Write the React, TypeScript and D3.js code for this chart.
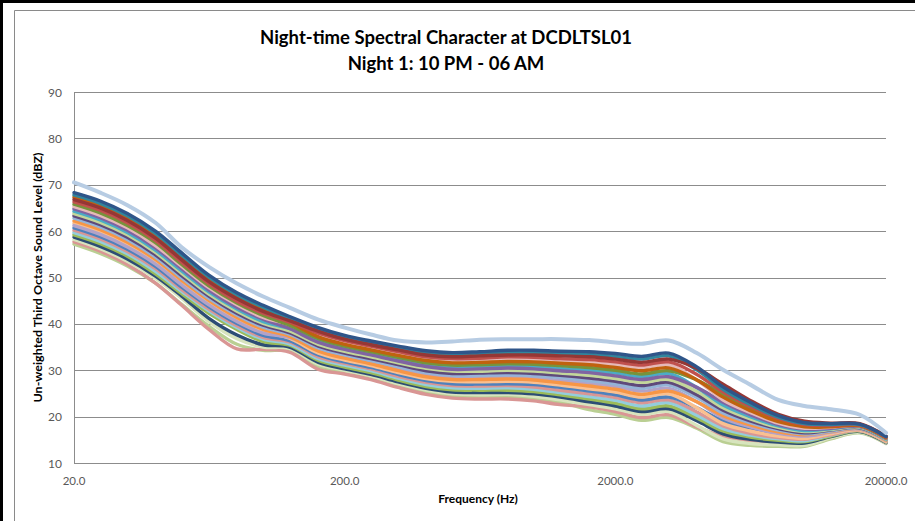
import React from "react";
import * as d3 from "d3";

const frequencies = [20, 25, 31.5, 40, 50, 63, 80, 100, 125, 160, 200, 250, 315, 400, 500, 630, 800, 1000, 1250, 1600, 2000, 2500, 3150, 4000, 5000, 6300, 8000, 10000, 12500, 16000, 20000];
const xTicks = [20, 200, 2000, 20000];
const xTickLabels = ["20.0", "200.0", "2000.0", "20000.0"];
const yTicks = [10, 20, 30, 40, 50, 60, 70, 80, 90];
const titleLines = ["Night-time Spectral Character at DCDLTSL01", "Night 1: 10 PM - 06 AM"];
const xAxisTitle = "Frequency (Hz)";
const yAxisTitle = "Un-weighted Third Octave Sound Level (dBZ)";

const interval00 = [70.5, 68.3, 65.6, 61.8, 56.5, 52.3, 48.7, 45.9, 43.5, 40.9, 39.2, 37.7, 36.4, 36.0, 36.2, 36.6, 36.7, 36.7, 36.7, 36.5, 36.0, 35.7, 36.4, 33.7, 30.1, 26.9, 23.6, 22.3, 21.6, 20.4, 16.5];
const interval01 = [68.3, 66.5, 63.8, 60.0, 55.3, 50.5, 46.7, 44.0, 41.6, 39.2, 37.5, 36.3, 35.2, 34.2, 33.8, 34.0, 34.3, 34.3, 34.1, 34.0, 33.6, 33.0, 33.7, 30.7, 26.4, 23.1, 20.2, 18.7, 18.5, 18.4, 15.7];
const interval02 = [66.8, 65.0, 62.3, 58.5, 53.8, 49.1, 45.4, 42.7, 40.7, 38.4, 36.7, 35.5, 34.4, 33.3, 32.9, 33.1, 33.3, 33.3, 33.1, 32.9, 32.4, 31.7, 32.4, 30.4, 27.0, 23.5, 20.5, 19.0, 18.6, 18.5, 15.8];
const interval03 = [67.8, 66.0, 63.3, 59.5, 54.8, 50.1, 46.3, 43.6, 41.2, 38.8, 37.1, 35.9, 34.8, 33.8, 33.3, 33.5, 33.8, 33.8, 33.6, 33.4, 33.0, 32.4, 33.1, 30.1, 25.9, 22.6, 19.9, 18.5, 18.3, 18.3, 15.7];
const interval04 = [66.3, 64.5, 61.8, 58.0, 53.3, 48.7, 44.9, 42.3, 40.4, 38.0, 36.4, 35.2, 34.0, 32.9, 32.5, 32.6, 32.9, 32.8, 32.5, 32.3, 31.8, 31.1, 31.8, 29.1, 25.3, 22.2, 19.6, 18.3, 18.1, 18.2, 15.6];
const interval05 = [67.3, 65.5, 62.8, 59.0, 54.3, 49.6, 45.8, 43.1, 40.4, 37.2, 35.6, 34.4, 33.2, 32.1, 31.6, 31.7, 31.9, 31.8, 31.5, 31.2, 30.6, 29.9, 30.5, 27.9, 24.2, 21.3, 18.9, 17.8, 17.8, 18.0, 15.4];
const interval06 = [65.8, 63.9, 61.2, 57.5, 52.8, 48.2, 44.5, 41.8, 39.7, 36.8, 35.2, 34.0, 32.8, 31.6, 31.1, 31.2, 31.4, 31.3, 31.0, 30.6, 30.0, 29.2, 29.9, 27.9, 24.8, 21.7, 19.3, 18.0, 18.0, 18.1, 15.5];
const interval07 = [65.3, 63.4, 60.7, 56.9, 52.4, 47.8, 44.1, 41.4, 39.9, 37.6, 36.0, 34.8, 33.6, 32.5, 32.0, 32.2, 32.4, 32.3, 32.0, 31.7, 31.2, 30.5, 31.2, 27.9, 23.6, 20.9, 18.6, 17.5, 17.7, 18.0, 15.4];
const interval08 = [64.8, 62.9, 60.2, 56.4, 51.9, 47.3, 43.6, 41.0, 39.0, 36.0, 34.5, 33.3, 32.0, 30.8, 30.2, 30.3, 30.5, 30.3, 29.9, 29.5, 28.8, 28.0, 28.6, 26.3, 23.1, 20.4, 18.3, 17.3, 17.5, 17.9, 15.3];
const interval09 = [64.3, 62.4, 59.7, 55.9, 51.4, 46.9, 43.2, 40.5, 39.0, 36.4, 34.9, 33.7, 32.4, 31.2, 30.7, 30.8, 31.0, 30.8, 30.4, 30.0, 29.4, 28.6, 29.3, 26.3, 22.5, 20.0, 18.0, 17.0, 17.4, 17.8, 15.2];
const interval10 = [63.8, 61.9, 59.2, 55.4, 50.9, 46.4, 42.7, 40.1, 38.5, 35.6, 34.1, 32.9, 31.6, 30.4, 29.8, 29.8, 30.0, 29.8, 29.4, 28.9, 28.2, 27.4, 28.0, 25.4, 21.9, 19.5, 17.7, 16.8, 17.2, 17.7, 15.1];
const interval11 = [63.3, 61.4, 58.7, 54.9, 50.4, 46.0, 42.3, 39.7, 38.1, 35.2, 33.7, 32.5, 31.2, 29.9, 29.3, 29.4, 29.5, 29.3, 28.9, 28.3, 27.6, 26.7, 27.4, 24.7, 21.4, 19.1, 17.4, 16.5, 17.1, 17.6, 15.1];
const interval12 = [62.8, 60.9, 58.2, 54.4, 49.9, 45.5, 41.9, 39.3, 37.8, 34.8, 33.3, 32.1, 30.8, 29.5, 28.9, 28.9, 29.0, 28.8, 28.4, 27.7, 27.0, 26.1, 26.8, 24.1, 20.8, 18.7, 17.1, 16.3, 16.9, 17.5, 15.0];
const interval13 = [62.2, 60.3, 57.6, 53.9, 49.4, 45.1, 41.4, 38.8, 37.3, 34.1, 32.6, 31.4, 29.9, 28.6, 28.0, 28.0, 28.1, 27.9, 27.3, 26.6, 25.9, 24.8, 25.5, 23.2, 20.2, 18.2, 16.7, 16.1, 16.8, 17.4, 14.9];
const interval14 = [61.2, 59.3, 56.6, 52.9, 48.4, 44.1, 40.5, 38.0, 37.1, 34.5, 33.0, 31.8, 30.4, 29.1, 28.5, 28.4, 28.6, 28.4, 27.8, 27.2, 26.5, 25.5, 26.1, 23.2, 19.7, 17.8, 16.4, 15.8, 16.6, 17.3, 14.9];
const interval15 = [61.7, 59.8, 57.1, 53.4, 48.9, 44.6, 41.0, 38.4, 36.9, 33.7, 32.2, 31.0, 29.5, 28.2, 27.6, 27.5, 27.6, 27.4, 26.8, 26.0, 25.3, 24.2, 24.9, 21.9, 18.5, 16.9, 15.8, 15.3, 16.3, 17.1, 14.7];
const interval16 = [60.7, 58.8, 56.1, 52.4, 47.9, 43.7, 40.1, 37.5, 36.4, 33.3, 31.8, 30.6, 29.1, 27.8, 27.1, 27.0, 27.1, 26.9, 26.3, 25.5, 24.7, 23.6, 24.2, 21.9, 19.1, 17.3, 16.1, 15.6, 16.4, 17.2, 14.8];
const interval17 = [60.2, 58.3, 55.6, 51.9, 47.4, 43.2, 39.6, 37.1, 36.1, 32.9, 31.5, 30.3, 28.7, 27.4, 26.7, 26.6, 26.7, 26.4, 25.7, 24.9, 24.1, 23.0, 23.6, 21.0, 18.0, 16.4, 15.5, 15.1, 16.1, 17.0, 14.6];
const interval18 = [59.7, 57.8, 55.1, 51.3, 47.0, 42.8, 39.2, 36.7, 35.7, 32.5, 31.1, 29.9, 28.3, 26.9, 26.2, 26.1, 26.2, 25.9, 25.2, 24.3, 23.5, 22.3, 23.0, 20.3, 17.4, 16.0, 15.2, 14.8, 16.0, 17.0, 14.6];
const interval19 = [59.2, 57.3, 54.6, 50.8, 46.5, 42.3, 38.8, 36.2, 35.4, 32.1, 30.7, 29.5, 27.9, 26.5, 25.8, 25.7, 25.7, 25.4, 24.7, 23.8, 22.9, 21.7, 22.3, 19.7, 16.9, 15.6, 14.9, 14.6, 15.8, 16.9, 14.5];
const interval20 = [58.7, 56.7, 54.0, 50.3, 46.0, 41.2, 37.6, 35.5, 35.0, 31.7, 30.3, 29.1, 27.5, 26.1, 25.3, 25.2, 25.2, 24.9, 24.2, 23.2, 22.3, 21.1, 21.7, 19.1, 16.3, 15.1, 14.5, 14.3, 15.7, 16.8, 14.4];
const interval21 = [58.2, 56.2, 53.5, 49.8, 45.5, 40.5, 36.8, 35.0, 34.7, 31.3, 30.0, 28.8, 27.1, 25.7, 24.9, 24.7, 24.8, 24.4, 23.6, 22.6, 21.7, 20.5, 21.1, 18.1, 15.2, 14.2, 13.9, 13.8, 15.4, 16.6, 14.3];
const interval22 = [57.7, 55.7, 52.8, 48.8, 44.0, 38.8, 34.6, 34.5, 33.9, 30.2, 29.2, 28.0, 26.3, 24.8, 24.0, 23.8, 23.8, 23.4, 22.6, 22.1, 21.1, 19.8, 20.4, 17.8, 15.7, 14.7, 14.2, 14.1, 15.5, 16.7, 14.3];
const interval23 = [57.2, 55.2, 52.5, 48.8, 44.2, 39.5, 35.6, 34.3, 34.2, 30.9, 29.6, 28.4, 26.7, 25.2, 24.4, 24.3, 24.3, 23.9, 23.1, 21.5, 20.5, 19.2, 19.8, 17.5, 14.6, 13.8, 13.6, 13.6, 15.2, 16.5, 14.2];

const seriesValues = [
  interval00, interval01, interval02, interval03, interval04, interval05, interval06, interval07,
  interval08, interval09, interval10, interval11, interval12, interval13, interval14, interval15,
  interval16, interval17, interval18, interval19, interval20, interval21, interval22, interval23,
];

const seriesColors = [
  "#B7CCE3", "#2F5589", "#953735", "#31859C", "#C0504D", "#C0620F", "#77933C", "#E6B9B8",
  "#8064A2", "#4BACC6", "#C3D69B", "#5F497A", "#95B3D7", "#F79646", "#B3A2C7", "#FAC090",
  "#4F81BD", "#D99694", "#93CDDD", "#9BBB59", "#2C4D75", "#D7E4BD", "#D99694", "#BACF93",
];

const FONT = "Lato, 'Open Sans', sans-serif";

export default function App() {
  const W = 915;
  const H = 521;
  const x = d3.scaleLog().domain([20, 20000]).range([74, 886]);
  const y = d3.scaleLinear().domain([10, 90]).range([463, 92]);
  const line = d3
    .line<number>()
    .x((_, i) => x(frequencies[i]))
    .y((d) => y(d))
    .curve(d3.curveCatmullRom.alpha(0.5));

  const order = seriesValues.map((_, i) => i).slice(1).reverse().concat([0]);

  return (
    <svg
      width={W}
      height={H}
      style={{ position: "absolute", left: 0, top: 0, background: "#fff" }}
      fontFamily={FONT}
    >
      <rect x={0} y={0} width={W} height={H} fill="#fff" />
      {/* outer black edge */}
      <line x1={0} x2={W} y1={1.5} y2={1.5} stroke="#000" strokeWidth={3} />
      <line x1={1.5} x2={1.5} y1={0} y2={H} stroke="#000" strokeWidth={3} />
      {/* chart area frame */}
      <line x1={14.5} x2={W} y1={10.5} y2={10.5} stroke="#8a8a8a" strokeWidth={1} />
      <line x1={14.5} x2={14.5} y1={10.5} y2={H} stroke="#8a8a8a" strokeWidth={1} />

      {/* title */}
      <text x={446} y={43.5} textAnchor="middle" fontSize={18.5} fontWeight={700} fill="#000">
        {titleLines[0]}
      </text>
      <text x={446} y={69.5} textAnchor="middle" fontSize={18.5} fontWeight={700} fill="#000">
        {titleLines[1]}
      </text>

      {/* gridlines */}
      {yTicks.map((t) => (
        <line
          key={"g" + t}
          x1={74}
          x2={886}
          y1={Math.round(y(t)) + 0.5}
          y2={Math.round(y(t)) + 0.5}
          stroke="#8c8c8c"
          strokeWidth={1}
        />
      ))}
      <line x1={74.5} x2={74.5} y1={y(90)} y2={y(10)} stroke="#8c8c8c" strokeWidth={1} />

      {/* y tick labels */}
      {yTicks.map((t) => (
        <text
          key={"yl" + t}
          x={62}
          y={y(t) + 4.5}
          textAnchor="end"
          fontSize={12}
          fill="#595959"
        >
          {t}
        </text>
      ))}

      {/* x tick labels */}
      {xTicks.map((t, i) => (
        <text key={"xl" + t} x={x(t)} y={485} textAnchor="middle" fontSize={11.5} fill="#595959">
          {xTickLabels[i]}
        </text>
      ))}

      {/* axis titles */}
      <text x={478} y={503} textAnchor="middle" fontSize={12} fontWeight={700} fill="#000">
        {xAxisTitle}
      </text>
      <text
        transform={`translate(42, 277.5) rotate(-90)`}
        textAnchor="middle"
        fontSize={12}
        fontWeight={700}
        fill="#000"
        textLength={250}
        lengthAdjust="spacingAndGlyphs"
      >
        {yAxisTitle}
      </text>

      {/* series */}
      {order.map((i) => (
        <path
          key={"s" + i}
          d={line(seriesValues[i]) || ""}
          fill="none"
          stroke={seriesColors[i]}
          strokeWidth={i === 0 ? 4 : 3.4}
          strokeLinejoin="round"
          strokeLinecap="round"
        />
      ))}
    </svg>
  );
}
